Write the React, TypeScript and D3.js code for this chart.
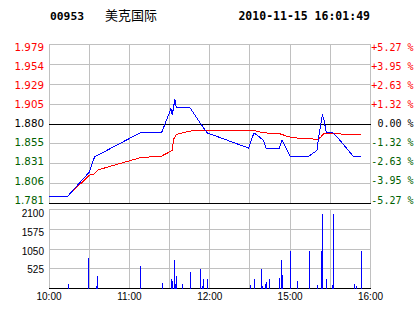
import React from "react";
import * as d3 from "d3";

const stockCode = "00953";
const stockName = "美克国际";
const stamp = "2010-11-15 16:01:49";

const prevClose = 1.88;
const priceTicks = ["1.979", "1.954", "1.929", "1.905", "1.880", "1.855", "1.831", "1.806", "1.781"];
const pctTicks = ["+5.27 %", "+3.95 %", "+2.63 %", "+1.32 %", "0.00 %", "-1.32 %", "-2.63 %", "-3.95 %", "-5.27 %"];
const volTicks = [2100, 1575, 1050, 525];
const timeTicks = ["10:00", "11:00", "12:00", "15:00", "16:00"];

const priceTimes = ["10:00","10:14","10:30","10:34","11:08","11:24","11:31","11:32","11:34","11:35","11:45","11:53","11:58","12:29","14:33","14:40","14:42","14:52","14:54","15:00","15:14","15:20","15:21","15:24","15:25","15:27","15:32","15:35","15:47","15:53"];
const priceValues = [1.790,1.790,1.820,1.839,1.869,1.869,1.899,1.891,1.911,1.901,1.901,1.881,1.869,1.850,1.869,1.860,1.850,1.850,1.860,1.840,1.840,1.847,1.860,1.891,1.887,1.870,1.869,1.864,1.840,1.840];

const avgTimes = ["10:00","10:14","10:30","10:34","10:37","11:08","11:24","11:32","11:33","11:35","11:45","11:50","14:33","14:40","14:52","14:59","15:07","15:21","15:23","15:25","15:52","15:53"];
const avgValues = [1.790,1.790,1.816,1.818,1.823,1.838,1.840,1.847,1.861,1.867,1.871,1.872,1.872,1.869,1.868,1.864,1.862,1.861,1.864,1.868,1.867,1.866];

const volTimes = ["10:14","10:29","10:35","10:36","11:08","11:24","11:31","11:32","11:33","11:34","11:35","11:39","11:45","11:53","11:54","11:55","11:58","14:30","14:33","14:38","14:39","14:41","14:42","14:44","14:52","14:53","14:54","15:00","15:05","15:14","15:20","15:23","15:24","15:27","15:31","15:32","15:48","15:49","15:53"];
const volValues = [130,810,60,330,600,135,240,190,750,130,320,130,430,530,55,240,240,105,240,530,55,130,160,240,270,750,370,1010,190,1010,80,1010,1980,240,80,1980,130,55,1010];

const minuteIndex = (t: string) => {
  const [h, m] = t.split(":").map(Number);
  const mins = h * 60 + m;
  return mins <= 12 * 60 + 30 ? mins - 600 : 150 + (mins - (14 * 60 + 30));
};

const GRID = "#c0c0c0";
const GREEN = "#006000";
const RED = "#ff0000";

export default function App() {
  const W = 414, H = 314;
  const x = d3.scaleLinear().domain([0, 240]).range([49, 370.5]);
  const yP = d3.scaleLinear().domain([prevClose * (1 - 0.0527), prevClose * (1 + 0.0527)]).range([203.5, 44.5]);
  const yPLabel = d3.scaleLinear().domain([0, 8]).range([47, 200]);
  const yV = d3.scaleLinear().domain([0, 2100]).range([288.5, 209.5]);
  const yVLabel = d3.scaleLinear().domain([2100, 525]).range([213.5, 269.7]);

  const line = d3.line<[number, number]>().x((d) => x(d[0])).y((d) => yP(d[1]));
  const pricePath = line(priceTimes.map((t, i) => [minuteIndex(t), priceValues[i]]));
  const avgPath = line(avgTimes.map((t, i) => [minuteIndex(t), avgValues[i]]));

  const cols = d3.range(0, 9).map((i) => x(i * 30));
  const rowsP = d3.range(0, 9).map((i) => yP.range()[1] + (i * (yP.range()[0] - yP.range()[1])) / 8);
  const rowsV = [0, 525, 1050, 1575, 2100].map((v) => yV(v));

  const priceColor = (i: number) => (i < 4 ? RED : i === 4 ? "#000" : GREEN);

  return (
    <svg width={W} height={H} style={{ position: "absolute", left: 0, top: 0, background: "#fff" }}>
      {/* header */}
      <text x={50} y={20} fontFamily="DejaVu Sans Mono" fontWeight="bold" fontSize={11.3}>{stockCode}</text>
      <text x={105} y={20} fontFamily="Noto Sans CJK SC" fontSize={13}>{stockName}</text>
      <text x={370} y={20} textAnchor="end" fontFamily="DejaVu Sans Mono" fontWeight="bold" fontSize={11.5}>{stamp}</text>

      {/* price grid */}
      <g shapeRendering="crispEdges" stroke={GRID} strokeWidth={1}>
        {rowsP.map((y, i) => (i === 4 || i === 8 ? null : <line key={"rp" + i} x1={49} x2={370.5} y1={y} y2={y} />))}
        {cols.map((cx, i) => <line key={"cp" + i} x1={cx} x2={cx} y1={44.5} y2={203.5} />)}
        {rowsV.map((y, i) => (i === 0 ? null : <line key={"rv" + i} x1={49} x2={370.5} y1={y} y2={y} />))}
        {cols.map((cx, i) => <line key={"cv" + i} x1={cx} x2={cx} y1={209.5} y2={288.5} />)}
      </g>
      <g shapeRendering="crispEdges" stroke="#000" strokeWidth={1}>
        <line x1={49} x2={370.5} y1={yP(prevClose)} y2={yP(prevClose)} />
        <line x1={49} x2={370.5} y1={203.5} y2={203.5} />
        <line x1={49} x2={370.5} y1={288.5} y2={288.5} />
      </g>

      {/* lines */}
      <path d={avgPath || ""} fill="none" stroke={RED} strokeWidth={1} shapeRendering="crispEdges" />
      <path d={pricePath || ""} fill="none" stroke="#0000ff" strokeWidth={1} shapeRendering="crispEdges" />

      {/* volume bars */}
      <g shapeRendering="crispEdges" stroke="#0000ff" strokeWidth={1}>
        {volTimes.map((t, i) => {
          const bx = Math.round(x(minuteIndex(t))) + 0.5;
          return <line key={"v" + i} x1={bx} x2={bx} y1={yV(0)} y2={yV(volValues[i])} />;
        })}
      </g>

      {/* left price labels */}
      <g fontFamily="DejaVu Sans" fontSize={10.3} textAnchor="end">
        {priceTicks.map((s, i) => (
          <text key={"pl" + i} x={44} y={yPLabel(i)} dy="0.36em" fill={priceColor(i)}>{s}</text>
        ))}
      </g>
      {/* right pct labels */}
      <g fontFamily="DejaVu Sans Mono" fontSize={10} textAnchor="end">
        {pctTicks.map((s, i) => (
          <text key={"pr" + i} x={413.5} y={yPLabel(i)} dy="0.36em" fill={priceColor(i)}>{s}</text>
        ))}
      </g>
      {/* volume labels */}
      <g fontFamily="Liberation Sans" fontSize={10} textAnchor="end" fill="#000">
        {volTicks.map((v) => (
          <text key={"vl" + v} x={44} y={yVLabel(v)} dy="0.36em">{v}</text>
        ))}
      </g>
      {/* time labels */}
      <g fontFamily="Liberation Sans" fontSize={10} textAnchor="middle" fill="#000">
        {timeTicks.map((t) => (
          <text key={"t" + t} x={x(minuteIndex(t))} y={296.7} dy="0.36em">{t}</text>
        ))}
      </g>
    </svg>
  );
}
